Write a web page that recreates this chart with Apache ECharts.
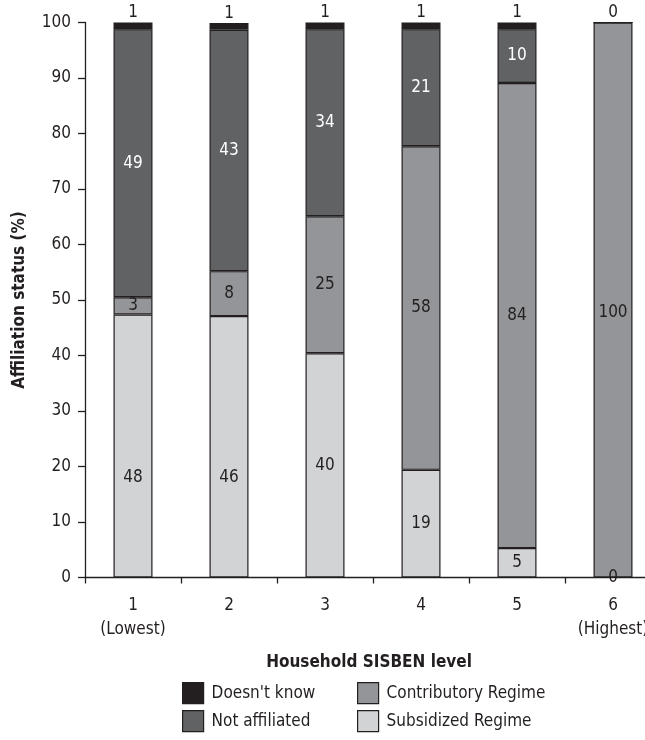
<!DOCTYPE html>
<html>
<head>
<meta charset="utf-8">
<script src="https://cdn.jsdelivr.net/npm/echarts@6/dist/echarts.min.js"></script>
<style>
html,body{margin:0;padding:0;background:#fff;}
#c{width:645px;height:740px;}
</style>
</head>
<body>
<div id="c"></div>
<script>
var categories = ['1\n(Lowest)', '2', '3', '4', '5', '6\n(Highest)'];
// segment heights (%)
var subsidized    = [47.4, 47.1, 40.4, 19.4, 5.3, 0];
var contributory  = [3.1, 8.1, 24.7, 58.3, 83.8, 100];
var notAffiliated = [48.3, 43.5, 33.7, 21.1, 9.7, 0];
var doesntKnow    = [1.2, 1.2, 1.2, 1.2, 1.2, 0];
// printed labels (null = not printed)
var subsidizedLbl    = [48, 46, 40, 19, 5, 0];
var contributoryLbl  = [3, 8, 25, 58, 84, 100];
var notAffiliatedLbl = [49, 43, 34, 21, 10, null];
var doesntKnowLbl    = [1, 1, 1, 1, 1, 0];
var yTicks = [0, 10, 20, 30, 40, 50, 60, 70, 80, 90, 100];

var FONT = '"Liberation Sans Narrow", "DejaVu Sans Condensed", "Liberation Sans", sans-serif';
var INK = '#231f20';

// label placement tweaks (px) seen in the original artwork
var labelNudge = {
  'Subsidized Regime': {0: 32, 1: 31},
  'Contributory Regime': {5: 13}
};

function mk(name, data, lbls, color, lblColor, pos) {
  var nudge = labelNudge[name] || {};
  return {
    name: name, type: 'bar', stack: 's', barWidth: 39,
    data: data.map(function (v, i) {
      var d = {value: v};
      if (nudge[i] !== undefined) d.label = {offset: [0, nudge[i]]};
      return d;
    }),
    itemStyle: {color: color, borderColor: INK, borderWidth: 1.2},
    label: {
      show: true, position: pos, distance: 1, color: lblColor,
      fontFamily: FONT, fontSize: 17,
      formatter: function (p) { var l = lbls[p.dataIndex]; return l === null ? '' : String(l); }
    },
    emphasis: {disabled: true}
  };
}

function leg(name, left, top) {
  return {
    orient: 'horizontal', left: left, top: top, itemWidth: 21, itemHeight: 21,
    icon: 'rect', data: [name], selectedMode: false, padding: 0,
    itemStyle: {borderColor: INK, borderWidth: 1.2},
    textStyle: {fontFamily: FONT, fontSize: 17, color: INK, padding: [0, 0, 0, 3]}
  };
}

var chart = echarts.init(document.getElementById('c'), null, {renderer: 'canvas'});
chart.setOption({
  animation: false,
  backgroundColor: '#fff',
  textStyle: {fontFamily: FONT},
  grid: {left: 85, right: -16, top: 22.5, bottom: 162.5, containLabel: false, outerBoundsMode: 'none'},
  legend: [
    leg("Doesn't know", 182, 682),
    leg('Not affiliated', 182, 710),
    leg('Contributory Regime', 357, 682),
    leg('Subsidized Regime', 357, 710)
  ],
  xAxis: {
    type: 'category', data: categories,
    name: 'Household SISBEN level', nameLocation: 'middle', nameGap: 77,
    nameTextStyle: {fontFamily: FONT, fontSize: 17, fontWeight: 'bold', color: INK, padding: [0, 8, 0, 0]},
    axisLine: {lineStyle: {color: INK, width: 1.3}},
    axisTick: {show: true, length: 6, lineStyle: {color: INK, width: 1.3}},
    axisLabel: {color: INK, fontFamily: FONT, fontSize: 17, margin: 16, lineHeight: 24}
  },
  yAxis: {
    type: 'value', min: 0, max: 100, interval: 10,
    name: 'Affiliation status (%)', nameLocation: 'middle', nameGap: 57,
    nameTextStyle: {fontFamily: FONT, fontSize: 17, fontWeight: 'bold', color: INK},
    axisLine: {show: true, lineStyle: {color: INK, width: 1.3}},
    axisTick: {show: true, length: 7, lineStyle: {color: INK, width: 1.3}},
    splitLine: {show: false},
    axisLabel: {color: INK, fontFamily: FONT, fontSize: 17, margin: 14,
      formatter: function (v) { return yTicks.indexOf(v) >= 0 ? String(v) : ''; }}
  },
  series: [
    mk('Subsidized Regime', subsidized, subsidizedLbl, '#d1d3d4', INK, 'inside'),
    mk('Contributory Regime', contributory, contributoryLbl, '#939598', INK, 'inside'),
    mk('Not affiliated', notAffiliated, notAffiliatedLbl, '#616264', '#ffffff', 'inside'),
    mk("Doesn't know", doesntKnow, doesntKnowLbl, INK, INK, 'top')
  ]
});
</script>
</body>
</html>
